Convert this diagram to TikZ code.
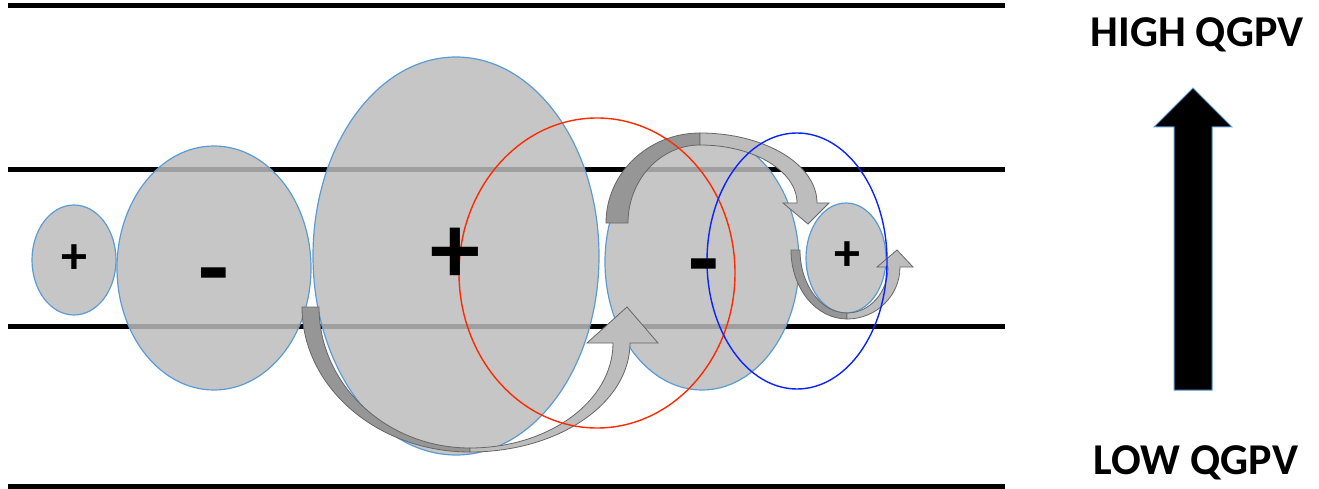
\documentclass[tikz,border=0pt]{standalone}
\usepackage{fontspec}
\setmainfont{Carlito}
\usetikzlibrary{shapes.geometric}
\definecolor{eddygray}{HTML}{BCBCBC}
\definecolor{edgeblue}{HTML}{5B9BD5}
\definecolor{ringred}{HTML}{FF2A00}
\definecolor{ringblue}{HTML}{0A24FF}
\definecolor{taildark}{HTML}{969696}
\definecolor{headlight}{HTML}{BDBDBD}
\definecolor{bandedge}{HTML}{666666}
\begin{document}
\begin{tikzpicture}[
    x=1pt, y=-1pt,
    eddy/.style={ellipse, draw=edgeblue, line width=1.2pt, fill=eddygray, fill opacity=0.85, inner sep=0pt},
    ring/.style={ellipse, line width=1.4pt, inner sep=0pt},
    sign/.style={inner sep=0pt, text=black},
    level/.style={line width=5pt},
    tailband/.style={fill=taildark, draw=bandedge, line width=0.8pt},
    headband/.style={fill=headlight, draw=bandedge, line width=0.8pt},
    title/.style={font=\fontsize{44}{44}\selectfont\bfseries}
  ]
  \useasboundingbox (0,0) rectangle (1319,489);
  % horizontal levels
  \foreach \yy in {6,170,326,486}
    \draw[level] (8,\yy) -- (1005,\yy);
  % eddies
  \node[eddy, minimum width=84, minimum height=110] (e1) at (74,260) {};
  \node[eddy, minimum width=194, minimum height=244] (e2) at (214,268) {};
  \node[eddy, minimum width=286, minimum height=398] (e3) at (456,256) {};
  \node[eddy, minimum width=194, minimum height=256] (e4) at (702,262) {};
  \node[eddy, minimum width=80, minimum height=110] (e5) at (846,258) {};
  % curved arrows
  \fill[tailband] (302,307) arc[start angle=180, end angle=90, x radius=168, y radius=145]
    -- (470,448) arc[start angle=90, end angle=180, x radius=151, y radius=141] -- cycle;
  \fill[headband] (470,452) arc[start angle=90, end angle=0, x radius=160, y radius=109]
    -- (658,343) -- (627,307) -- (587,343) -- (613,343)
    arc[start angle=0, end angle=90, x radius=143, y radius=105] -- cycle;
  \fill[tailband] (606,223) arc[start angle=180, end angle=270, x radius=94, y radius=90]
    -- (700,145) arc[start angle=270, end angle=180, x radius=72, y radius=78] -- cycle;
  \fill[headband] (700,133) arc[start angle=-90, end angle=0, x radius=117, y radius=70]
    -- (829,203) -- (808,224) -- (783,203) -- (797,203)
    arc[start angle=0, end angle=-90, x radius=97, y radius=58] -- cycle;
  \fill[tailband] (791,250) arc[start angle=180, end angle=90, x radius=56, y radius=69]
    -- (847,313) arc[start angle=90, end angle=180, x radius=47, y radius=63] -- cycle;
  \fill[headband] (847,319) arc[start angle=90, end angle=0, x radius=53, y radius=52]
    -- (913,267) -- (897,250) -- (877,267) -- (888,267)
    arc[start angle=0, end angle=90, x radius=41, y radius=46] -- cycle;
  % red and blue outlines
  \node[ring, draw=ringred, minimum width=276, minimum height=310] (r1) at (597,273) {};
  \node[ring, draw=ringblue, minimum width=180, minimum height=256] (r2) at (797,261) {};
  % signs
  \node[sign, font=\fontsize{52}{52}\selectfont\bfseries] (s1) at (74,259) {+};
  \node[sign, font=\fontsize{100}{100}\selectfont\bfseries] (s2) at (213.5,285) {-};
  \node[sign, font=\fontsize{100}{100}\selectfont\bfseries] (s3) at (455,256) {+};
  \node[sign, font=\fontsize{100}{100}\selectfont\bfseries] (s4) at (703.5,276) {-};
  \node[sign, font=\fontsize{52}{52}\selectfont\bfseries] (s5) at (847,256) {+};
  % QGPV gradient
  \node[title] (high) at (1197,35) {HIGH QGPV};
  \node[title] (low) at (1196,463) {LOW QGPV};
  \fill[black, draw=edgeblue, line width=1pt] (1174,390) -- (1174,127) -- (1154,127) -- (1193,88)
    -- (1232,127) -- (1212,127) -- (1212,390) -- cycle;
\end{tikzpicture}
\end{document}
